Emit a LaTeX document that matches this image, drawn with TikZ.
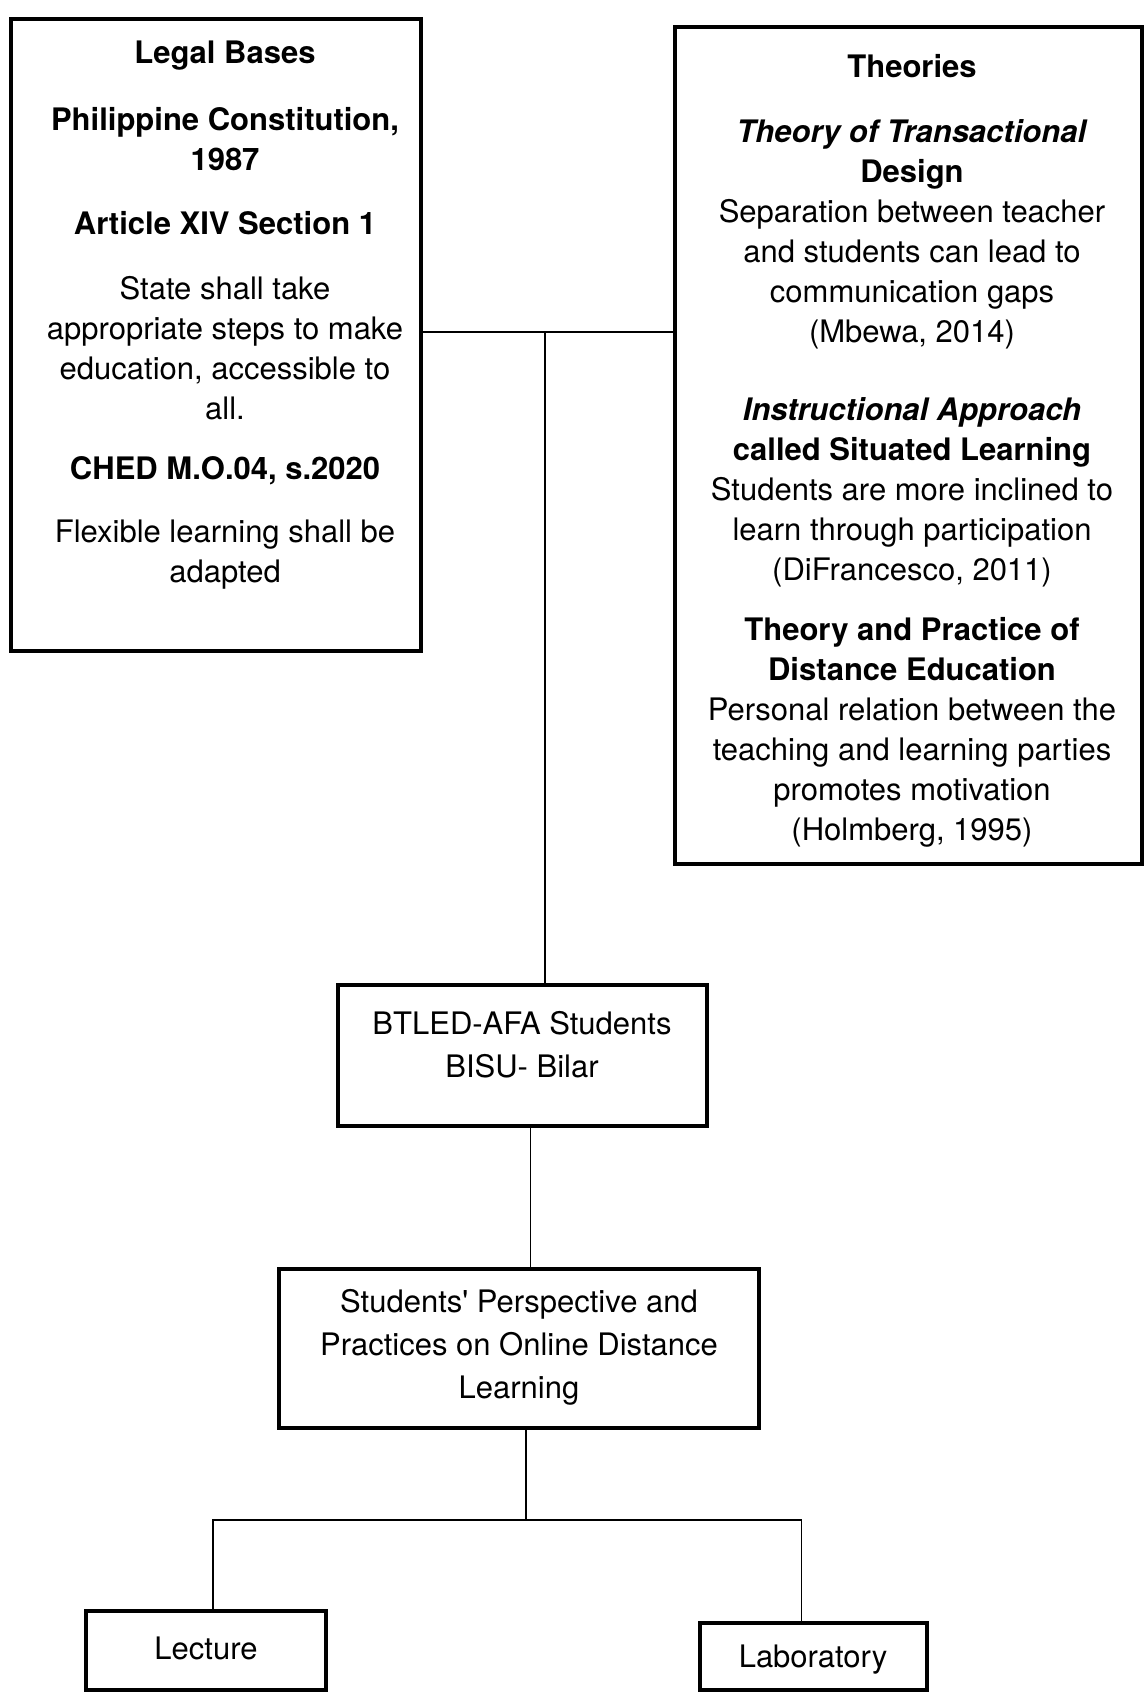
\documentclass[tikz,border=0pt]{standalone}
\usepackage{fontspec}
\setmainfont{TeX Gyre Heros}
\begin{document}
\begin{tikzpicture}[x=1pt,y=-1pt,
  box/.style={draw, line width=3.4pt, inner sep=0pt},
  txt/.style={align=center, inner sep=0pt, font=\fontsize{31}{40}\selectfont},
  txtlow/.style={align=center, inner sep=0pt, font=\fontsize{31}{43}\selectfont},
  link/.style={line width=1.8pt}]
\useasboundingbox[fill=white] (0,0) rectangle (1147,1694);

% boxes
\node[box, minimum width=410pt, minimum height=632pt] (legal) at (216,335) {};
\node[box, minimum width=467pt, minimum height=837pt] (theories) at (908.5,445.5) {};
\node[box, minimum width=369pt, minimum height=141pt] (btled) at (522.5,1055.5) {};
\node[box, minimum width=480pt, minimum height=159pt] (students) at (519,1348.5) {};
\node[box, minimum width=240pt, minimum height=79pt] (lecture) at (206,1650.5) {};
\node[box, minimum width=227pt, minimum height=67pt] (lab) at (813.5,1656.5) {};

% texts
\node[txt, anchor=north] (legaltext) at (225,41) {%
\textbf{Legal Bases}\\[27pt]
\textbf{Philippine Constitution,}\\
\textbf{1987}\\[24pt]
\textbf{Article XIV Section 1}\\[25pt]
State shall take\\
appropriate steps to make\\
education, accessible to\\
all.\\[20pt]
\textbf{CHED M.O.04, s.2020}\\[23pt]
Flexible learning shall be\\
adapted};

\node[txt, anchor=north] (theotext) at (912,54) {%
\textbf{Theories}\\[25pt]
\textbf{\itshape Theory of Transactional}\\
\textbf{Design}\\
Separation between teacher\\
and students can lead to\\
communication gaps\\
(Mbewa, 2014)\\[38pt]
\textbf{\itshape Instructional Approach}\\
\textbf{called Situated Learning}\\
Students are more inclined to\\
learn through participation\\
(DiFrancesco, 2011)\\[20pt]
\textbf{Theory and Practice of}\\
\textbf{Distance Education}\\
Personal relation between the\\
teaching and learning parties\\
promotes motivation\\
(Holmberg, 1995)};

\node[txtlow] (btledtext) at (522,1045) {BTLED-AFA Students\\BISU- Bilar};
\node[txtlow] (studtext) at (519,1347) {Students\textquotesingle{} Perspective and\\Practices on Online Distance\\Learning};
\node[txtlow] (lecttext) at (206,1648) {Lecture};
\node[txtlow] (labtext) at (813,1660) {Laboratory};

% connectors
\coordinate (j1) at (545,332);
\coordinate (j2) at (526,1520);
\draw[link] (legal.east |- j1) -- (theories.west |- j1);
\draw[link] (j1) -- (j1 |- btled.north);
\draw[link] ([xshift=8pt]btled.south) -- ([xshift=8pt]btled.south |- students.north);
\draw[link] (students.south -| j2) -- (j2);
\draw[link] ([xshift=7pt]lecture.north) |- (j2) -| ([xshift=-12pt]lab.north);
\end{tikzpicture}
\end{document}
